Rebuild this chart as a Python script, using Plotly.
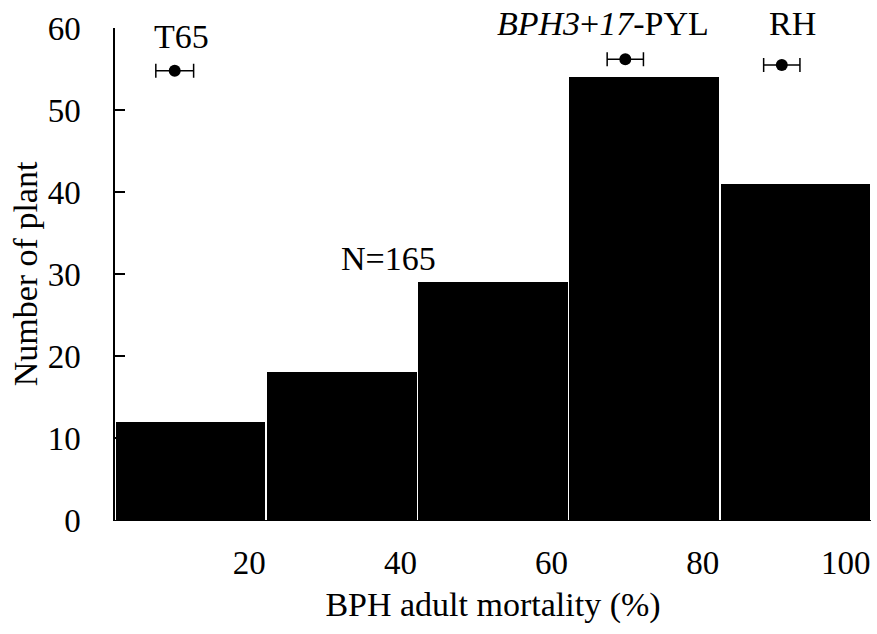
import plotly.graph_objects as go

# Histogram data
bin_left = [0, 20, 40, 60, 80]
bin_width = 20
counts = [12, 18, 29, 54, 41]

# Parental / check lines: mean mortality (x), plotted height (y), error (sd)
line_names = ["T65", "<i>BPH3</i>+<i>17</i>-PYL", "RH"]
line_mort = [7.9, 67.5, 88.2]
line_y = [54.8, 56.2, 55.5]
line_err = [2.5, 2.4, 2.4]

x_ticks = [20, 40, 60, 80, 100]
y_ticks = [0, 10, 20, 30, 40, 50, 60]
Y_MAX = 60

FONT = "Liberation Serif, Times New Roman, serif"

fig = go.Figure()
fig.add_trace(go.Bar(
    x=[l + bin_width / 2 for l in bin_left],
    y=counts,
    width=[bin_width - 0.2] * len(counts),
    marker=dict(color="black", line=dict(width=0)),
    showlegend=False,
))
fig.add_trace(go.Scatter(
    x=line_mort, y=line_y, mode="markers",
    marker=dict(color="black", size=12),
    error_x=dict(type="data", array=line_err, color="black", thickness=1.5, width=7),
    showlegend=False, cliponaxis=False,
))

# labels above the markers (x in data units, y in count units -> paper)
label_pos = [(8.8, 59.0), (64.6, 60.6), (89.6, 60.6)]
for name, (lx, ly) in zip(line_names, label_pos):
    fig.add_annotation(x=lx, y=ly / Y_MAX, xref="x", yref="paper",
                       text=name, showarrow=False,
                       font=dict(family=FONT, size=34, color="black"),
                       xanchor="center", yanchor="middle")
fig.add_annotation(x=36.2, y=31.9, text="N=165", showarrow=False,
                   font=dict(family=FONT, size=34, color="black"),
                   xanchor="center", yanchor="middle")

fig.update_layout(
    width=877, height=634,
    margin=dict(l=115, r=6, t=28, b=114),
    paper_bgcolor="white", plot_bgcolor="white",
    font=dict(family=FONT, color="black", size=33),
    bargap=0,
)
fig.update_xaxes(
    range=[0, 100], tickvals=x_ticks, ticktext=[str(v) for v in x_ticks],
    ticks="", ticklabelposition="outside left", ticklabelstandoff=13,
    showline=True, linecolor="black", linewidth=1, showgrid=False, zeroline=False,
    tickfont=dict(size=33),
    title=dict(text="BPH adult mortality (%)", font=dict(size=34), standoff=12),
)
fig.update_yaxes(
    range=[0, Y_MAX], tickvals=y_ticks,
    ticks="inside", ticklen=10, tickcolor="black", tickwidth=1.5,
    ticklabelstandoff=26,
    showline=True, linecolor="black", linewidth=1.5, showgrid=False, zeroline=False,
    tickfont=dict(size=33),
    title=dict(text="Number of plant", font=dict(size=34), standoff=0),
)

fig.write_html("out.html", config={"displayModeBar": False},
               post_script="document.body.style.margin='0';")
